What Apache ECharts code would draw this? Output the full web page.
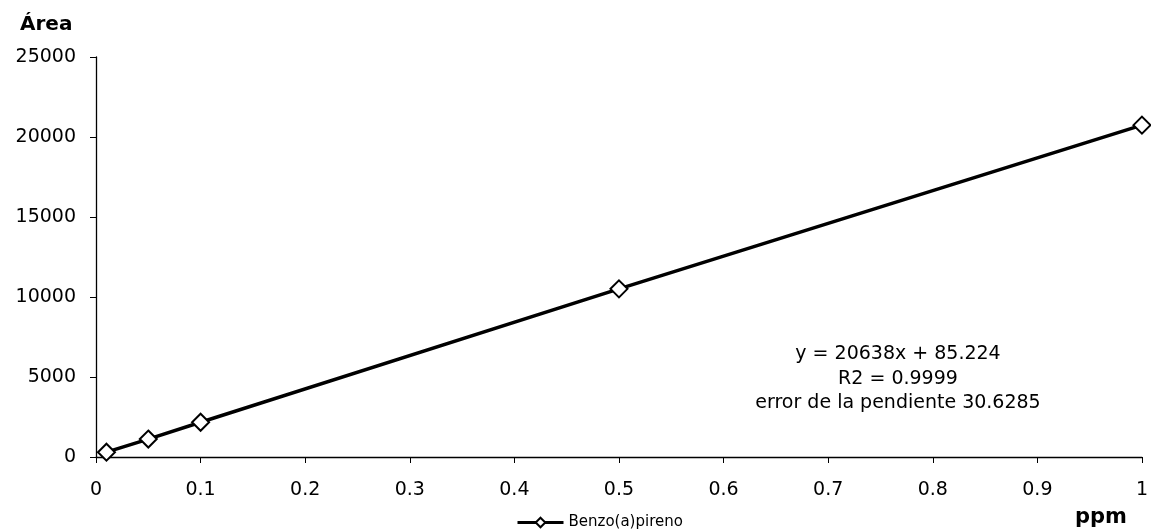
<!DOCTYPE html>
<html>
<head>
    <meta charset="utf-8">
    <title>Benzo(a)pireno</title>
    <script src="https://cdn.jsdelivr.net/npm/echarts@6/dist/echarts.min.js"></script>
</head>
<body style="margin:0">
<div id="main" style="width: 1151px;height:529px;"></div>

<script type="text/javascript">
    // datos
    var ppm = [0.01, 0.05, 0.1, 0.5, 1];
    var area = [300, 1120, 2170, 10510, 20740];
    var serieNombre = 'Benzo(a)pireno';
    var ecuacion = ['y = 20638x + 85.224', 'R2 = 0.9999', 'error de la pendiente 30.6285'];

    var puntos = ppm.map(function (x, i) { return [x, area[i]]; });
    var fuente = 'DejaVu Sans, Verdana, sans-serif';

    var myChart = echarts.init(document.getElementById('main'));

    var option = {
        animation: false,
        backgroundColor: '#fff',
        textStyle: { fontFamily: fuente },
        grid: { left: 96, right: 6, top: 57, bottom: 72 },
        legend: {
            data: [{
                name: serieNombre,
                itemStyle: { borderWidth: 1.5 },
                lineStyle: { width: 3 }
            }],
            top: 510,
            left: 511,
            itemWidth: 46,
            itemHeight: 12,
            itemGap: 0,
            textStyle: { fontSize: 15, color: '#000', fontFamily: fuente }
        },
        xAxis: {
            type: 'value',
            min: 0, max: 1, interval: 0.1,
            axisLine: { lineStyle: { color: '#000', width: 1.3 } },
            axisTick: { show: true, length: 6, lineStyle: { color: '#000' } },
            axisLabel: { fontSize: 19, color: '#000', margin: 24, fontFamily: fuente },
            splitLine: { show: false }
        },
        yAxis: {
            type: 'value',
            min: 0, max: 25000, interval: 5000,
            axisLine: { show: true, lineStyle: { color: '#000', width: 1.3 } },
            axisTick: { show: true, length: 6, lineStyle: { color: '#000' } },
            axisLabel: {
                fontSize: 19, color: '#000', margin: 20, fontFamily: fuente,
                formatter: function (v) { return String(v); }
            },
            splitLine: { show: false }
        },
        series: [{
            name: serieNombre,
            type: 'line',
            data: puntos,
            symbol: 'emptyDiamond',
            symbolSize: 17,
            lineStyle: { color: '#000', width: 3.5 },
            itemStyle: { color: '#000', borderWidth: 2 },
            z: 3
        }],
        graphic: [{
            type: 'text',
            x: 898,
            y: 342,
            style: {
                text: ecuacion.join('\n'),
                fontSize: 19,
                fontFamily: fuente,
                lineHeight: 24.5,
                fill: '#000',
                align: 'center',
                verticalAlign: 'top'
            }
        }, {
            type: 'text',
            x: 20,
            y: 15,
            style: {
                text: 'Área',
                fontSize: 20,
                fontWeight: 'bold',
                fontFamily: fuente,
                fill: '#000'
            }
        }, {
            type: 'text',
            x: 1075,
            y: 507,
            style: {
                text: 'ppm',
                fontSize: 21,
                fontWeight: 'bold',
                fontFamily: fuente,
                fill: '#000'
            }
        }]
    };

    myChart.setOption(option);
</script>
</body>
</html>
